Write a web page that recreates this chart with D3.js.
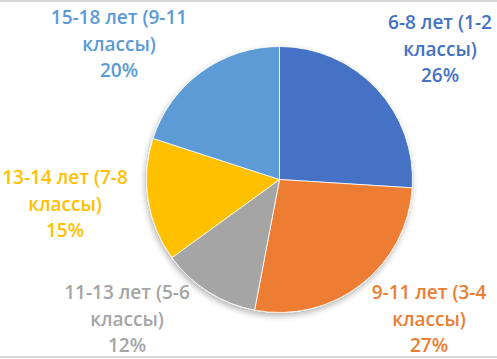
<!DOCTYPE html>
<html><head><meta charset="utf-8">
<script src="https://cdn.jsdelivr.net/npm/d3@7"></script>
<style>html,body{margin:0;padding:0;background:#fff;}svg{display:block;}</style>
</head><body>
<svg id="chart" width="497" height="359"></svg>
<script>
const categories = ["6-8 лет (1-2 классы)", "9-11 лет (3-4 классы)", "11-13 лет (5-6 классы)", "13-14 лет (7-8 классы)", "15-18 лет (9-11 классы)"];
const labelLine1 = ["6-8 лет (1-2", "9-11 лет (3-4", "11-13 лет (5-6", "13-14 лет (7-8", "15-18 лет (9-11"];
const labelLine2 = ["классы)", "классы)", "классы)", "классы)", "классы)"];
const values = [26, 27, 12, 15, 20];
const colors = ["#4472C4", "#ED7D31", "#A5A5A5", "#FFC000", "#5B9BD5"];
const labelPos = [[440, 22], [429, 292], [127, 292], [65, 177], [119, 17]];

const svg = d3.select("#chart");
const W = 497, H = 359, cx = 279.5, cy = 179.5, R = 133;

svg.append("rect").attr("x",0).attr("y",0).attr("width",W).attr("height",2).attr("fill","#d9d9d9");
svg.append("rect").attr("x",0).attr("y",356).attr("width",W).attr("height",2).attr("fill","#d9d9d9");

const defs = svg.append("defs");
const f = defs.append("filter").attr("id","sh").attr("x","-20%").attr("y","-20%").attr("width","140%").attr("height","140%");
f.append("feGaussianBlur").attr("in","SourceAlpha").attr("stdDeviation",3);
f.append("feOffset").attr("dx",-1).attr("dy",3).attr("result","b");
f.append("feComponentTransfer").append("feFuncA").attr("type","linear").attr("slope",0.3);
const m = f.append("feMerge");
m.append("feMergeNode");
m.append("feMergeNode").attr("in","SourceGraphic");

const pie = d3.pie().sort(null).value(d => d)(values);
const arc = d3.arc().innerRadius(0).outerRadius(R);
const g = svg.append("g").attr("transform",`translate(${cx},${cy})`).attr("filter","url(#sh)");
g.selectAll("path").data(pie).join("path")
  .attr("d", arc).attr("fill", (d,i) => colors[i])
  .attr("stroke","#fff").attr("stroke-width",0.8);

const lab = svg.append("g").attr("font-family","'Open Sans', sans-serif").attr("font-weight",600).attr("font-size",19).attr("text-anchor","middle");
values.forEach((v,i) => {
  const t = lab.append("text").attr("fill", colors[i]).attr("x", labelPos[i][0]).attr("y", labelPos[i][1]).attr("dominant-baseline","central");
  t.append("tspan").attr("x", labelPos[i][0]).attr("dy", 0).text(labelLine1[i]);
  t.append("tspan").attr("x", labelPos[i][0]).attr("dy", 26.5).text(labelLine2[i]);
  t.append("tspan").attr("x", labelPos[i][0]).attr("dy", 26.5).text(v + "%");
});
</script>
</body></html>
